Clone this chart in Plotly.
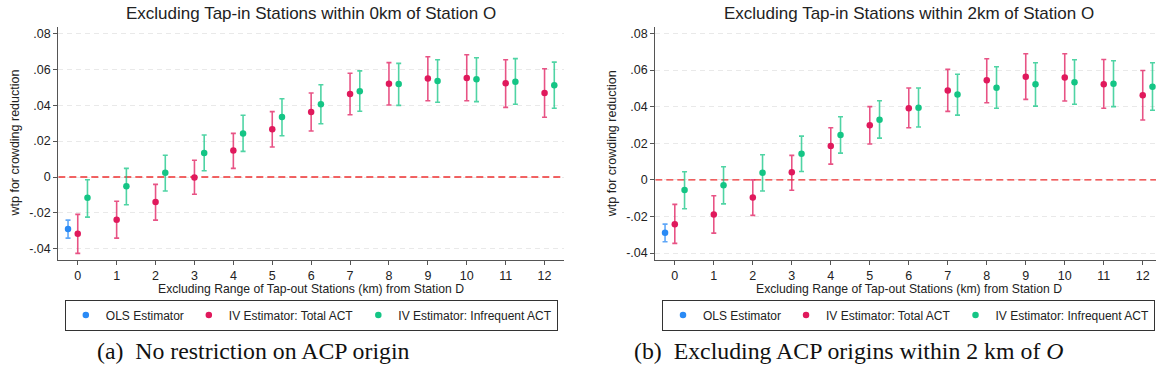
import plotly.graph_objects as go

# Distance bands for excluded tap-out stations (km from Station D)
km = list(range(13))

# Panel (a): no restriction on ACP origin
ols_a = [-0.0290]
ols_a_lo = [-0.0340]
ols_a_hi = [-0.0240]
total_a = [-0.0316, -0.0238, -0.0139, -0.0002, 0.0147, 0.0266, 0.0362, 0.0462, 0.0520, 0.0548, 0.0552, 0.0522, 0.0468]
total_a_lo = [-0.0425, -0.0340, -0.0240, -0.0096, 0.0048, 0.0167, 0.0256, 0.0347, 0.0401, 0.0425, 0.0425, 0.0388, 0.0333]
total_a_hi = [-0.0208, -0.0135, -0.0041, 0.0093, 0.0243, 0.0364, 0.0468, 0.0578, 0.0637, 0.0670, 0.0681, 0.0653, 0.0603]
infreq_a = [-0.0115, -0.0052, 0.0024, 0.0134, 0.0243, 0.0334, 0.0405, 0.0477, 0.0518, 0.0535, 0.0544, 0.0531, 0.0511]
infreq_a_lo = [-0.0223, -0.0154, -0.0078, 0.0035, 0.0143, 0.0230, 0.0297, 0.0366, 0.0399, 0.0416, 0.0420, 0.0405, 0.0383]
infreq_a_hi = [-0.0015, 0.0048, 0.0121, 0.0234, 0.0344, 0.0436, 0.0514, 0.0591, 0.0633, 0.0653, 0.0664, 0.0659, 0.0640]

# Panel (b): excluding ACP origins within 2 km of O
ols_b = [-0.0289]
ols_b_lo = [-0.0338]
ols_b_hi = [-0.0242]
total_b = [-0.0242, -0.0189, -0.0096, 0.0041, 0.0185, 0.0298, 0.0392, 0.0489, 0.0544, 0.0563, 0.0560, 0.0523, 0.0462]
total_b_lo = [-0.0347, -0.0291, -0.0194, -0.0057, 0.0086, 0.0196, 0.0285, 0.0374, 0.0421, 0.0440, 0.0431, 0.0391, 0.0327]
total_b_hi = [-0.0134, -0.0087, 0.0000, 0.0134, 0.0285, 0.0400, 0.0502, 0.0604, 0.0662, 0.0689, 0.0689, 0.0658, 0.0598]
infreq_b = [-0.0056, -0.0030, 0.0039, 0.0143, 0.0245, 0.0328, 0.0394, 0.0467, 0.0503, 0.0523, 0.0534, 0.0525, 0.0509]
infreq_b_lo = [-0.0158, -0.0131, -0.0061, 0.0046, 0.0146, 0.0228, 0.0289, 0.0354, 0.0391, 0.0403, 0.0413, 0.0400, 0.0380]
infreq_b_hi = [0.0044, 0.0072, 0.0137, 0.0239, 0.0345, 0.0432, 0.0502, 0.0577, 0.0618, 0.0640, 0.0656, 0.0651, 0.0640]

y_ticks = [-0.04, -0.02, 0, 0.02, 0.04, 0.06, 0.08]
y_tick_text = ["-.04", "-.02", "0", ".02", ".04", ".06", ".08"]

titles = ["Excluding Tap-in Stations within 0km of Station O",
          "Excluding Tap-in Stations within 2km of Station O"]
x_title = "Excluding Range of Tap-out Stations (km) from Station D"
y_title = "wtp for crowding reduction"
captions = ["(a)&nbsp; No restriction on ACP origin",
            "(b)&nbsp; Excluding ACP origins within 2 km of <i>O</i>"]
series_names = ["OLS Estimator", "IV Estimator: Total ACT", "IV Estimator: Infrequent ACT"]

BLUE = "#2a8af5"
RED = "#e0195c"
GREEN = "#14c585"
BLUE_BAR = "rgba(42,138,245,0.75)"
RED_BAR = "rgba(224,25,92,0.75)"
GREEN_BAR = "rgba(20,197,133,0.75)"
SANS = "Liberation Sans, Arial, sans-serif"
SERIF = "Liberation Serif, Times New Roman, serif"
INK = "#222222"

X_RANGE = [-0.5, 12.5]

fig = go.Figure()


def add_series(x, est, lo, hi, name, color, bar_color, xaxis, yaxis, legend):
    fig.add_trace(go.Scatter(
        x=x, y=est, mode="markers", name=name,
        marker=dict(color=color, size=6.5),
        error_y=dict(type="data", symmetric=False,
                     array=[h - e for h, e in zip(hi, est)],
                     arrayminus=[e - l for e, l in zip(est, lo)],
                     color=bar_color, thickness=1.6, width=2.5),
        xaxis=xaxis, yaxis=yaxis, legend=legend, cliponaxis=False,
    ))


panels = [
    (ols_a, ols_a_lo, ols_a_hi, total_a, total_a_lo, total_a_hi, infreq_a, infreq_a_lo, infreq_a_hi, "x", "y", "legend"),
    (ols_b, ols_b_lo, ols_b_hi, total_b, total_b_lo, total_b_hi, infreq_b, infreq_b_lo, infreq_b_hi, "x2", "y2", "legend2"),
]
for (o, olo, ohi, t, tlo, thi, f, flo, fhi, xa, ya, lg) in panels:
    # dashed reference line at zero, beneath the estimates
    fig.add_trace(go.Scatter(
        x=X_RANGE, y=[0, 0], mode="lines", showlegend=False, hoverinfo="skip",
        line=dict(color="#ee3030", width=1.4, dash="7px,4px"),
        xaxis=xa, yaxis=ya, legend=lg,
    ))
    add_series([k - 0.25 for k in km[:1]], o, olo, ohi, series_names[0], BLUE, BLUE_BAR, xa, ya, lg)
    add_series(km, t, tlo, thi, series_names[1], RED, RED_BAR, xa, ya, lg)
    add_series([k + 0.25 for k in km], f, flo, fhi, series_names[2], GREEN, GREEN_BAR, xa, ya, lg)

W, H = 1156, 390
axis_common = dict(showline=True, linecolor="#555555", linewidth=1.2,
                   ticks="outside", ticklen=4, tickcolor="#555555", tickwidth=1,
                   tickfont=dict(family=SANS, size=12.5, color=INK),
                   zeroline=False)
x_common = dict(axis_common, tickvals=km, showgrid=False)
y_common = dict(axis_common, tickvals=y_ticks, ticktext=y_tick_text,
                showgrid=True, gridcolor="#e9e9e9", gridwidth=1, griddash="5px,4px")

legend_common = dict(orientation="h", xanchor="center", yanchor="middle",
                     bordercolor="#333333", borderwidth=1, bgcolor="white",
                     font=dict(family=SANS, size=12, color=INK),
                     itemwidth=30, tracegroupgap=0)

fig.update_layout(
    width=W, height=H,
    margin=dict(l=0, r=0, t=0, b=0),
    paper_bgcolor="white", plot_bgcolor="white",
    xaxis=dict(x_common, domain=[58.3 / W, 564 / W], range=X_RANGE, anchor="y"),
    yaxis=dict(y_common, domain=[1 - 260 / H, 1 - 26.7 / H], range=[-0.0462, 0.0837], anchor="x"),
    xaxis2=dict(x_common, domain=[655.3 / W, 1.0], range=[-0.5, 12.34], anchor="y2"),
    yaxis2=dict(y_common, domain=[1 - 260 / H, 1 - 26.7 / H], range=[-0.0438, 0.0837], anchor="x2"),
    legend=dict(legend_common, x=311.3 / W, y=1 - 315 / H),
    legend2=dict(legend_common, x=908.5 / W, y=1 - 315 / H),
    showlegend=True,
)

# Panel titles, axis titles and captions
centers = [311.3 / W, 908.5 / W]
ytitle_x = [14 / W, 611.7 / W]
caption_x = [253 / W, 848.5 / W]
for i in range(2):
    fig.add_annotation(text=titles[i], xref="paper", yref="paper", x=centers[i], y=1 - 14 / H,
                       xanchor="center", yanchor="middle", showarrow=False,
                       font=dict(family=SANS, size=17, color=INK))
    fig.add_annotation(text=x_title, xref="paper", yref="paper", x=centers[i], y=1 - 289.3 / H,
                       xanchor="center", yanchor="middle", showarrow=False,
                       font=dict(family=SANS, size=12.2, color=INK))
    fig.add_annotation(text=y_title, xref="paper", yref="paper", x=ytitle_x[i], y=1 - 143.5 / H,
                       xanchor="center", yanchor="middle", showarrow=False, textangle=-90,
                       font=dict(family=SANS, size=12.5, color=INK))
    fig.add_annotation(text=captions[i], xref="paper", yref="paper", x=caption_x[i], y=1 - 351 / H,
                       xanchor="center", yanchor="middle", showarrow=False,
                       font=dict(family=SERIF, size=23.8, color="#111111"))

fig.write_html("out.html")
